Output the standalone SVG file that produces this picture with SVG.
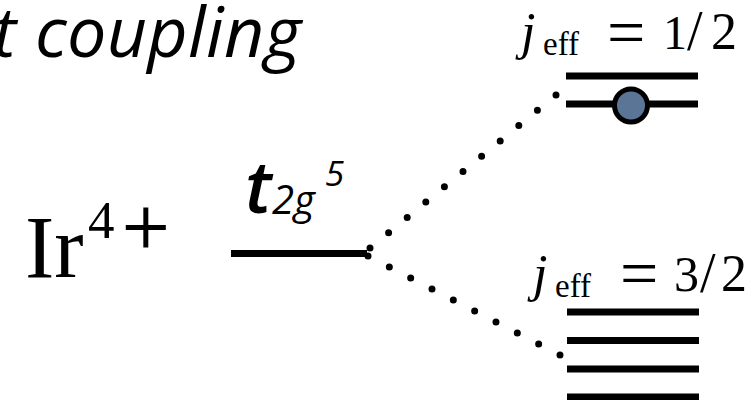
<svg xmlns="http://www.w3.org/2000/svg" width="756" height="400" viewBox="0 0 756 400">
<style>
.sans{font-family:"Open Sans","Noto Sans",sans-serif;font-style:italic;fill:#000}
.serif{font-family:"Liberation Serif","DejaVu Serif",serif;fill:#000}
.op{font-family:"DejaVu Serif","Liberation Serif",serif;fill:#000}
.lvl{stroke:#000;stroke-width:7;fill:none}
.dots{stroke:#000;stroke-width:7;stroke-linecap:round;fill:none}
</style>
<rect width="756" height="400" fill="#fff"/>
<g id="title"><text class="sans" x="-7" y="57" font-size="70" textLength="308" lengthAdjust="spacing">t coupling</text></g>
<g id="ion">
<text class="serif" x="25" y="277" font-size="88">Ir</text>
<text class="serif" x="88" y="238" font-size="53">4</text>
<text class="op" x="119" y="247" font-size="64">+</text>
</g>
<g id="t2g">
<text class="sans" x="245" y="213" font-size="72" font-weight="600">t</text>
<text class="sans" x="272" y="214" font-size="40">2</text>
<text class="sans" x="294" y="214" font-size="40">g</text>
<text class="sans" x="325" y="186" font-size="35">5</text>
<line class="lvl" x1="231" y1="253.5" x2="367" y2="253.5"/>
</g>
<g id="connectors">
<path class="dots" d="M370,248 L556,95" stroke-dasharray="0 24.084"/>
<path class="dots" d="M368,256 L560,355" stroke-dasharray="0 24.0"/>
</g>
<g id="jeff12">
<text class="serif" y="49" font-size="52"><tspan x="521" font-style="italic">j</tspan><tspan x="543" y="55" font-size="33">eff</tspan></text>
<text class="serif" x="607" y="55" font-size="68">=</text>
<text class="serif" x="663" y="49" font-size="48">1</text>
<text class="serif" x="687" y="50" font-size="56">/</text>
<text class="serif" x="711" y="49" font-size="52">2</text>
<line class="lvl" x1="566" y1="76" x2="698" y2="76"/>
<line class="lvl" x1="566" y1="104" x2="698" y2="104"/>
<circle cx="631" cy="105.5" r="16.5" fill="#5b7597" stroke="#000" stroke-width="5"/>
</g>
<g id="jeff32">
<text class="serif" y="291" font-size="52"><tspan x="533" font-style="italic">j</tspan><tspan x="555" y="297" font-size="33">eff</tspan></text>
<text class="serif" x="620" y="296" font-size="68">=</text>
<text class="serif" x="674" y="291" font-size="50">3</text>
<text class="serif" x="700" y="292" font-size="56">/</text>
<text class="serif" x="721" y="291" font-size="52">2</text>
<line class="lvl" x1="567" y1="312" x2="699" y2="312"/>
<line class="lvl" x1="567" y1="340.5" x2="699" y2="340.5"/>
<line class="lvl" x1="567" y1="369" x2="699" y2="369"/>
<line class="lvl" x1="567" y1="397" x2="699" y2="397"/>
</g>
</svg>
